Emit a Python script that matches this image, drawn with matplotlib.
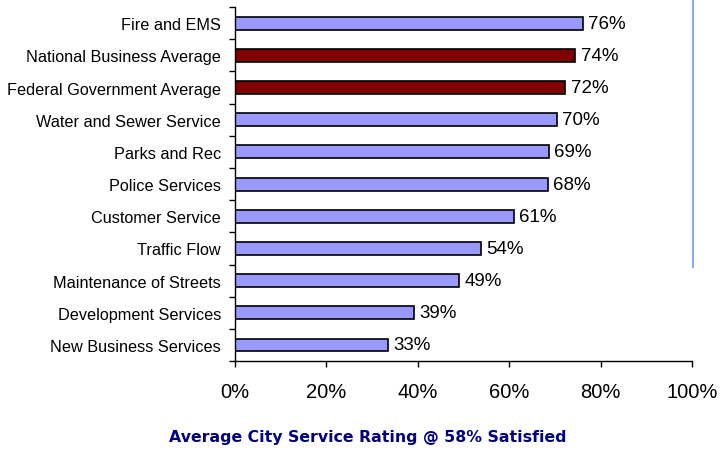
import matplotlib.pyplot as plt
from matplotlib.lines import Line2D
import numpy as np
plt.rcParams["font.family"] = ["Liberation Sans", "DejaVu Sans"]

services = ['Fire and EMS', 'National Business Average', 'Federal Government Average',
            'Water and Sewer Service', 'Parks and Rec', 'Police Services',
            'Customer Service', 'Traffic Flow', 'Maintenance of Streets',
            'Development Services', 'New Business Services']
ratings = [76.1, 74.4, 72.3, 70.4, 68.6, 68.4, 61.0, 53.8, 49.0, 39.2, 33.4]
labels = [76, 74, 72, 70, 69, 68, 61, 54, 49, 39, 33]
benchmarks = ['National Business Average', 'Federal Government Average']
xticks = [0, 20, 40, 60, 80, 100]

fig = plt.figure(figsize=(7.22, 4.52), dpi=100)
ax = fig.add_axes([0.3255, 0.199, 0.633, 0.783])

n = len(services)
ypos = np.arange(n)[::-1]
colors = ['#800000' if s in benchmarks else '#9999FF' for s in services]
ax.barh(ypos, ratings, height=0.4, color=colors, edgecolor='black', linewidth=1.2)
for y, v, lab in zip(ypos, ratings, labels):
    ax.annotate(f'{lab}%', xy=(v, y), xytext=(4, 0), textcoords='offset points',
                va='center', ha='left', fontsize=13.5)

ax.set_xlim(0, 100)
ax.set_ylim(-0.5, n - 0.5)
ax.set_xticks(xticks)
ax.set_xticklabels([f'{t}%' for t in xticks], fontsize=14.5)
ax.tick_params(axis='x', length=4, width=1, pad=11)

# labels on the centres, tick marks on the boundaries
ax.set_yticks(np.arange(n + 1) - 0.5)
ax.set_yticklabels([])
ax.set_yticks(ypos, minor=True)
ax.set_yticklabels(services, minor=True, fontsize=11.7)
ax.tick_params(axis='y', which='major', length=4, width=1)
ax.tick_params(axis='y', which='minor', length=0, pad=10)

for side in ['top', 'right']:
    ax.spines[side].set_visible(False)
for side in ['left', 'bottom']:
    ax.spines[side].set_linewidth(1)

fig.add_artist(Line2D([0.96, 0.96], [0.407, 1.0], color='#88AAFF', linewidth=1.5))

fig.text(0.51, 0.016, 'Average City Service Rating @ 58% Satisfied', ha='center', va='bottom',
         fontsize=11.3, fontweight='bold', color='#000080', family='DejaVu Sans')

plt.savefig('out.png', dpi=100)
